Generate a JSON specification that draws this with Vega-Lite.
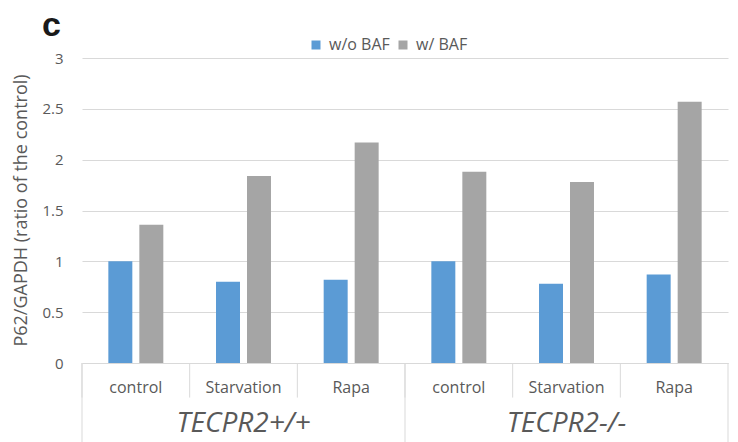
{
  "$schema": "https://vega.github.io/schema/vega-lite/v6.json",
  "width": 646,
  "height": 305,
  "autosize": {"type": "none"},
  "padding": {"left": 82, "top": 58, "right": 10, "bottom": 79},
  "background": "white",
  "title": {"text": "c", "anchor": "start", "frame": "group", "font": "Liberation Sans", "fontSize": 34, "fontWeight": "bold", "color": "#1a1a1a", "dx": -40, "offset": -33, "baseline": "alphabetic"},
  "config": {"view": {"stroke": null}, "font": "Open Sans"},
  "data": {
    "values": [
      {"cat": "TECPR2+/+|control", "genotype": "TECPR2+/+", "treatment": "control", "series": "w/o BAF", "value": 1.0},
      {"cat": "TECPR2+/+|control", "genotype": "TECPR2+/+", "treatment": "control", "series": "w/ BAF", "value": 1.36},
      {"cat": "TECPR2+/+|Starvation", "genotype": "TECPR2+/+", "treatment": "Starvation", "series": "w/o BAF", "value": 0.8},
      {"cat": "TECPR2+/+|Starvation", "genotype": "TECPR2+/+", "treatment": "Starvation", "series": "w/ BAF", "value": 1.84},
      {"cat": "TECPR2+/+|Rapa", "genotype": "TECPR2+/+", "treatment": "Rapa", "series": "w/o BAF", "value": 0.82},
      {"cat": "TECPR2+/+|Rapa", "genotype": "TECPR2+/+", "treatment": "Rapa", "series": "w/ BAF", "value": 2.17},
      {"cat": "TECPR2-/-|control", "genotype": "TECPR2-/-", "treatment": "control", "series": "w/o BAF", "value": 1.0},
      {"cat": "TECPR2-/-|control", "genotype": "TECPR2-/-", "treatment": "control", "series": "w/ BAF", "value": 1.88},
      {"cat": "TECPR2-/-|Starvation", "genotype": "TECPR2-/-", "treatment": "Starvation", "series": "w/o BAF", "value": 0.78},
      {"cat": "TECPR2-/-|Starvation", "genotype": "TECPR2-/-", "treatment": "Starvation", "series": "w/ BAF", "value": 1.78},
      {"cat": "TECPR2-/-|Rapa", "genotype": "TECPR2-/-", "treatment": "Rapa", "series": "w/o BAF", "value": 0.87},
      {"cat": "TECPR2-/-|Rapa", "genotype": "TECPR2-/-", "treatment": "Rapa", "series": "w/ BAF", "value": 2.57}
    ]
  },
  "layer": [
    {
      "mark": {"type": "bar"},
      "encoding": {
        "x": {
          "field": "cat", "type": "nominal",
          "scale": {"domain": ["TECPR2+/+|control", "TECPR2+/+|Starvation", "TECPR2+/+|Rapa", "TECPR2-/-|control", "TECPR2-/-|Starvation", "TECPR2-/-|Rapa"], "paddingInner": 0, "paddingOuter": 0},
          "axis": {"title": null, "labelExpr": "split(datum.label,'|')[1]", "labelAngle": 0, "ticks": false, "tickSize": 0, "labelPadding": 24, "labelBaseline": "middle", "labelFontSize": 16, "labelColor": "#595959", "domainColor": "#d9d9d9", "domainWidth": 1}
        },
        "xOffset": {"field": "series", "type": "nominal", "sort": ["w/o BAF", "w/ BAF"], "scale": {"paddingInner": 0.226, "paddingOuter": 0.85}},
        "y": {
          "field": "value", "type": "quantitative",
          "scale": {"domain": [0, 3], "nice": false},
          "axis": {"title": "P62/GAPDH (ratio of the control)", "values": [0, 0.5, 1, 1.5, 2, 2.5, 3], "format": "~g", "domain": false, "ticks": false, "tickSize": 0, "labelPadding": 19, "labelFontSize": 15, "labelColor": "#595959", "grid": true, "gridColor": "#d9d9d9", "titleFontSize": 18, "titleFontWeight": "normal", "titleColor": "#595959", "titleX": -61, "titleY": 152, "titleAngle": -90, "titleBaseline": "middle", "titleAlign": "center"}
        },
        "color": {
          "field": "series", "type": "nominal",
          "scale": {"domain": ["w/o BAF", "w/ BAF"], "range": ["#5B9BD5", "#A5A5A5"]},
          "legend": {"title": null, "orient": "none", "legendX": 226, "legendY": -21, "direction": "horizontal", "symbolType": "square", "symbolSize": 81, "symbolStrokeWidth": 0, "labelFontSize": 16, "labelColor": "#595959", "labelOffset": 5, "columnPadding": 5}
        }
      }
    },
    {
      "transform": [{"filter": "datum.series == 'w/o BAF'"}],
      "mark": {"type": "rule", "color": "#d9d9d9", "strokeWidth": 1},
      "encoding": {
        "x": {"field": "cat", "type": "nominal", "bandPosition": 0},
        "y": {"datum": 0},
        "y2": {"datum": -0.34}
      }
    },
    {
      "transform": [{"filter": "datum.series == 'w/o BAF' && datum.treatment == 'control'"}],
      "mark": {"type": "rule", "color": "#d9d9d9", "strokeWidth": 1},
      "encoding": {
        "x": {"field": "cat", "type": "nominal", "bandPosition": 0},
        "y": {"datum": 0},
        "y2": {"datum": -0.8}
      }
    },
    {
      "transform": [{"filter": "datum.series == 'w/o BAF' && datum.cat == 'TECPR2-/-|Rapa'"}],
      "mark": {"type": "rule", "color": "#d9d9d9", "strokeWidth": 1},
      "encoding": {
        "x": {"field": "cat", "type": "nominal", "bandPosition": 1},
        "y": {"datum": 0},
        "y2": {"datum": -0.8}
      }
    },
    {
      "transform": [{"filter": "datum.series == 'w/o BAF' && datum.treatment == 'Starvation'"}],
      "mark": {"type": "text", "fontSize": 28, "fontStyle": "italic", "color": "#595959", "baseline": "middle", "align": "center"},
      "encoding": {
        "x": {"field": "cat", "type": "nominal", "bandPosition": 0.5},
        "y": {"datum": -0.6},
        "text": {"field": "genotype"}
      }
    }
  ]
}
